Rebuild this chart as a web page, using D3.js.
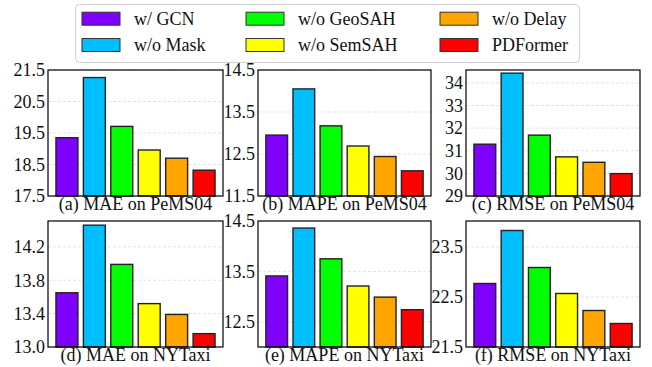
<!DOCTYPE html>
<html>
<head>
<meta charset="utf-8">
<script src="https://cdn.jsdelivr.net/npm/d3@7"></script>
<style>
  body { margin: 0; background: #fff; }
  svg { display: block; }
  svg text { font-family: "Liberation Serif", "Times New Roman", serif; }
</style>
</head>
<body>
<svg id="chart" width="652" height="367"></svg>
<script>
// variants (same order in every panel)
const categories = ['w/ GCN', 'w/o Mask', 'w/o GeoSAH', 'w/o SemSAH', 'w/o Delay', 'PDFormer'];
const colors = ['#8000ff', '#00bfff', '#00ff00', '#ffff00', '#ffa500', '#ff0000'];

// values
const maePems04  = [19.35, 21.26, 19.71, 18.96, 18.70, 18.32];
const mapePems04 = [12.95, 14.05, 13.17, 12.69, 12.44, 12.10];
const rmsePems04 = [31.29, 34.43, 31.69, 30.73, 30.49, 29.99];
const maeNyTaxi  = [13.65, 14.46, 13.99, 13.52, 13.39, 13.16];
const mapeNyTaxi = [13.41, 14.36, 13.75, 13.21, 12.99, 12.74];
const rmseNyTaxi = [22.77, 23.83, 23.09, 22.57, 22.23, 21.97];

const titles = ['(a) MAE on PeMS04', '(b) MAPE on PeMS04', '(c) RMSE on PeMS04',
                '(d) MAE on NYTaxi', '(e) MAPE on NYTaxi', '(f) RMSE on NYTaxi'];
const yLimits = [[17.5, 21.5], [11.5, 14.5], [29, 34.57], [13.0, 14.51], [12.0, 14.5], [21.5, 24.02]];
const yTicks = [
  [17.5, 18.5, 19.5, 20.5, 21.5],
  [11.5, 12.5, 13.5, 14.5],
  [29, 30, 31, 32, 33, 34],
  [13.0, 13.4, 13.8, 14.2],
  [12.5, 13.5, 14.5],
  [21.5, 22.5, 23.5]
];
const tickFormats = ['.1f', '.1f', 'd', '.1f', '.1f', '.1f'];
const series = [maePems04, mapePems04, rmsePems04, maeNyTaxi, mapeNyTaxi, rmseNyTaxi];

// layout
const colX = [[48, 223], [258, 431], [466, 640]];
const rowY = [[70, 196], [221, 347]];

const svg = d3.select('#chart');

series.forEach(function(vals, i) {
  const [x0, x1] = colX[i % 3];
  const [y0, y1] = rowY[Math.floor(i / 3)];

  const x = d3.scaleLinear().domain([-0.69, 5.69]).range([x0, x1]);
  const y = d3.scaleLinear().domain(yLimits[i]).range([y1, y0]);
  const bw = x(0.8) - x(0);

  const g = svg.append('g');

  // dashed grid
  g.selectAll('line.grid')
    .data(yTicks[i])
    .enter().append('line')
    .attr('x1', x0).attr('x2', x1)
    .attr('y1', d => y(d)).attr('y2', d => y(d))
    .attr('stroke', '#dcdcdc')
    .attr('stroke-width', 0.8)
    .attr('stroke-dasharray', '3,2');

  // bars
  g.selectAll('rect.bar')
    .data(vals)
    .enter().append('rect')
    .attr('x', (d, j) => x(j) - bw / 2)
    .attr('y', d => y(d))
    .attr('width', bw)
    .attr('height', d => y1 - y(d))
    .attr('fill', (d, j) => colors[j])
    .attr('stroke', '#222')
    .attr('stroke-width', 1.4);

  // y axis labels
  const axis = d3.axisLeft(y)
    .tickValues(yTicks[i])
    .tickFormat(d3.format(tickFormats[i]))
    .tickSize(0)
    .tickPadding(3);
  const ax = g.append('g')
    .attr('transform', 'translate(' + x0 + ',0)')
    .call(axis)
    .attr('font-family', null)
    .attr('font-size', 18);
  ax.select('.domain').remove();
  ax.selectAll('text').attr('fill', '#111');

  // frame
  g.append('rect')
    .attr('x', x0).attr('y', y0)
    .attr('width', x1 - x0).attr('height', y1 - y0)
    .attr('fill', 'none')
    .attr('stroke', '#000')
    .attr('stroke-width', 1.2);

  // subtitle
  g.append('text')
    .attr('x', (x0 + x1) / 2)
    .attr('y', y1 + 13.5)
    .attr('text-anchor', 'middle')
    .attr('font-size', 18)
    .attr('fill', '#111')
    .text(titles[i]);
});

// legend
const legend = svg.append('g');
legend.append('rect')
  .attr('x', 75.5).attr('y', 4.5)
  .attr('width', 504).attr('height', 58)
  .attr('rx', 4)
  .attr('fill', '#fff')
  .attr('stroke', '#d0d0d0')
  .attr('stroke-width', 1);

const legendColX = [82, 246, 440];
const legendRowY = [18.7, 45];
const items = legend.selectAll('g.item')
  .data(categories)
  .enter().append('g')
  .attr('transform', (d, j) =>
    'translate(' + legendColX[Math.floor(j / 2)] + ',' + legendRowY[j % 2] + ')');

items.append('rect')
  .attr('x', 0).attr('y', -6.5)
  .attr('width', 38).attr('height', 13)
  .attr('fill', (d, j) => colors[j])
  .attr('stroke', '#333')
  .attr('stroke-width', 1);

items.append('text')
  .attr('x', 52).attr('y', 6)
  .attr('font-size', 18)
  .attr('fill', '#111')
  .text(d => d);
</script>
</body>
</html>
